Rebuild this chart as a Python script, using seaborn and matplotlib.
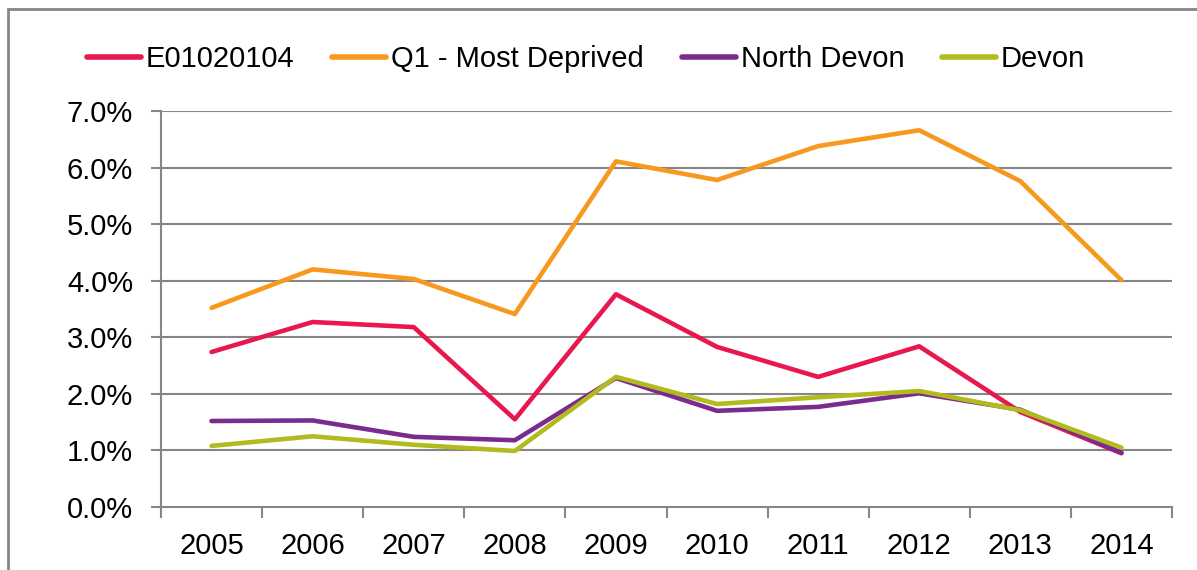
import numpy as np
import pandas as pd
import matplotlib
matplotlib.use('Agg')
import matplotlib.pyplot as plt
import seaborn as sns
from matplotlib.patches import Rectangle
from matplotlib.ticker import FixedLocator, PercentFormatter

# Data (percent)
years = ['2005', '2006', '2007', '2008', '2009', '2010', '2011', '2012', '2013', '2014']
lsoa = [2.74, 3.27, 3.18, 1.55, 3.76, 2.83, 2.30, 2.84, 1.68, 0.95]
q1_most_deprived = [3.52, 4.20, 4.03, 3.41, 6.11, 5.78, 6.38, 6.66, 5.76, 4.01]
north_devon = [1.52, 1.53, 1.24, 1.18, 2.28, 1.70, 1.77, 2.01, 1.72, 0.96]
devon = [1.08, 1.25, 1.10, 0.99, 2.30, 1.82, 1.94, 2.05, 1.71, 1.05]

series_names = ['E01020104', 'Q1 - Most Deprived', 'North Devon', 'Devon']
series_values = [lsoa, q1_most_deprived, north_devon, devon]
colors = ['#E8174E', '#F7991E', '#7B2A8E', '#B2BB1E']

rows = []
for name, vals in zip(series_names, series_values):
    for i, v in enumerate(vals):
        rows.append({'pos': i, 'value': v, 'series': name})
df = pd.DataFrame(rows)

sns.set_theme(style='white')
plt.rcParams['font.family'] = ['Liberation Sans', 'DejaVu Sans']
plt.rcParams['text.color'] = 'black'

fig = plt.figure(figsize=(11.97, 5.70), dpi=100)
ax = fig.add_axes([161 / 1197, 63 / 570, 1011 / 1197, 396 / 570])

grid_color = '#868686'
for y in range(1, 8):
    ax.axhline(y, color=grid_color, lw=1.5, zorder=0)

sns.lineplot(data=df, x='pos', y='value', hue='series', hue_order=series_names,
             palette=colors, linewidth=3.3, ax=ax, legend=True, sort=False)

ax.set_xlim(-0.5, len(years) - 0.5)
ax.set_ylim(0, 7)
ax.set_xlabel('')
ax.set_ylabel('')

ax.set_yticks(np.arange(0, 8, 1))
ax.yaxis.set_major_formatter(PercentFormatter(decimals=1))
ax.set_xticks(range(len(years)))
ax.set_xticklabels(years)
ax.xaxis.set_minor_locator(FixedLocator(np.arange(-0.5, len(years), 1)))

ax.tick_params(axis='x', which='major', length=0, pad=18, labelsize=21, labelcolor='black')
ax.tick_params(axis='x', which='minor', length=8, width=1.5, color=grid_color, direction='out', bottom=True)
ax.tick_params(axis='y', which='major', length=7, width=1.5, color=grid_color, direction='out',
               left=True, pad=13, labelsize=21, labelcolor='black')

for side in ['top', 'right']:
    ax.spines[side].set_visible(False)
for side in ['left', 'bottom']:
    ax.spines[side].set_color(grid_color)
    ax.spines[side].set_linewidth(1.5)

handles, labels = ax.get_legend_handles_labels()
leg = ax.legend(handles, labels, loc='center', bbox_to_anchor=(586 / 1197, 1 - 59 / 570),
                bbox_transform=fig.transFigure, ncol=4, frameon=False, fontsize=21,
                handlelength=1.85, handletextpad=0.17, columnspacing=1.3, borderaxespad=0)
for t in leg.get_texts():
    t.set_color('black')
for line in leg.get_lines():
    line.set_linewidth(4)

# outer chart frame
fig.patches.append(Rectangle((8 / 1197, -0.05), 1.2, 1 - 9 / 570 + 0.05, transform=fig.transFigure,
                             fill=False, edgecolor=grid_color, linewidth=2))

fig.savefig('out.png', dpi=100)
